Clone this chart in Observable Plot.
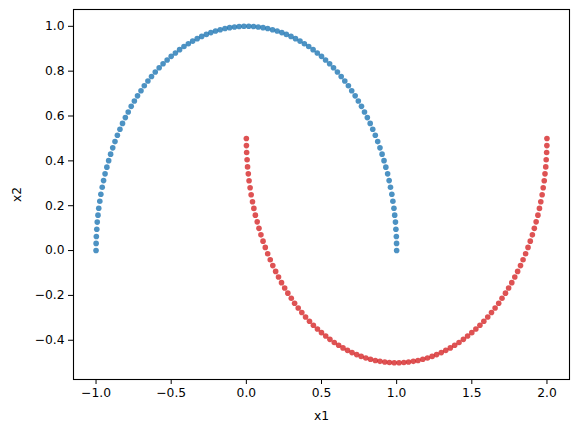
<!DOCTYPE html>
<html>
<head>
<meta charset="utf-8">
<script src="https://cdn.jsdelivr.net/npm/d3@7"></script>
<script src="https://cdn.jsdelivr.net/npm/@observablehq/plot@0.6"></script>
<style>
  html, body { margin: 0; padding: 0; background: #fff; }
  #chart { width: 578px; height: 432px; }
</style>
</head>
<body>
<div id="chart"></div>
<script>
// Class 0 (upper moon, blue)
const moon0X = [1, 0.9995, 0.998, 0.995, 0.992, 0.987, 0.982, 0.975, 0.968, 0.959, 0.950, 0.940, 0.928, 0.916, 0.903, 0.889, 0.874, 0.858, 0.841, 0.824, 0.805, 0.786, 0.766, 0.745, 0.724, 0.701, 0.679, 0.655, 0.631, 0.606, 0.580, 0.554, 0.527, 0.5, 0.472, 0.444, 0.415, 0.386, 0.357, 0.327, 0.297, 0.266, 0.236, 0.205, 0.174, 0.142, 0.111, 0.079, 0.048, 0.016,
  -0.016, -0.048, -0.079, -0.111, -0.142, -0.174, -0.205, -0.236, -0.266, -0.297, -0.327, -0.357, -0.386, -0.415, -0.444, -0.472, -0.5, -0.527, -0.554, -0.580, -0.606, -0.631, -0.655, -0.679, -0.701, -0.724, -0.745, -0.766, -0.786, -0.805, -0.824, -0.841, -0.858, -0.874, -0.889, -0.903, -0.916, -0.928, -0.940, -0.950, -0.959, -0.968, -0.975, -0.982, -0.987, -0.992, -0.995, -0.998, -0.9995, -1];
const moon0Y = [0, 0.032, 0.063, 0.095, 0.127, 0.158, 0.189, 0.220, 0.251, 0.282, 0.312, 0.342, 0.372, 0.401, 0.430, 0.458, 0.486, 0.514, 0.541, 0.567, 0.593, 0.618, 0.643, 0.667, 0.690, 0.713, 0.735, 0.756, 0.776, 0.796, 0.815, 0.833, 0.850, 0.866, 0.881, 0.896, 0.910, 0.922, 0.934, 0.945, 0.955, 0.964, 0.972, 0.979, 0.985, 0.990, 0.994, 0.997, 0.999, 1.000,
  1.000, 0.999, 0.997, 0.994, 0.990, 0.985, 0.979, 0.972, 0.964, 0.955, 0.945, 0.934, 0.922, 0.910, 0.896, 0.881, 0.866, 0.850, 0.833, 0.815, 0.796, 0.776, 0.756, 0.735, 0.713, 0.690, 0.667, 0.643, 0.618, 0.593, 0.567, 0.541, 0.514, 0.486, 0.458, 0.430, 0.401, 0.372, 0.342, 0.312, 0.282, 0.251, 0.220, 0.189, 0.158, 0.127, 0.095, 0.063, 0.032, 0];

// Class 1 (lower moon, red)
const moon1X = [0, 0.0005, 0.002, 0.005, 0.008, 0.013, 0.018, 0.025, 0.032, 0.041, 0.050, 0.060, 0.072, 0.084, 0.097, 0.111, 0.126, 0.142, 0.159, 0.176, 0.195, 0.214, 0.234, 0.255, 0.276, 0.299, 0.321, 0.345, 0.369, 0.394, 0.420, 0.446, 0.473, 0.5, 0.528, 0.556, 0.585, 0.614, 0.643, 0.673, 0.703, 0.734, 0.764, 0.795, 0.826, 0.858, 0.889, 0.921, 0.952, 0.984,
  1.016, 1.048, 1.079, 1.111, 1.142, 1.174, 1.205, 1.236, 1.266, 1.297, 1.327, 1.357, 1.386, 1.415, 1.444, 1.472, 1.5, 1.527, 1.554, 1.580, 1.606, 1.631, 1.655, 1.679, 1.701, 1.724, 1.745, 1.766, 1.786, 1.805, 1.824, 1.841, 1.858, 1.874, 1.889, 1.903, 1.916, 1.928, 1.940, 1.950, 1.959, 1.968, 1.975, 1.982, 1.987, 1.992, 1.995, 1.998, 1.9995, 2];
const moon1Y = [0.5, 0.468, 0.437, 0.405, 0.373, 0.342, 0.311, 0.280, 0.249, 0.218, 0.188, 0.158, 0.128, 0.099, 0.070, 0.042, 0.014, -0.014, -0.041, -0.067, -0.093, -0.118, -0.143, -0.167, -0.190, -0.213, -0.235, -0.256, -0.276, -0.296, -0.315, -0.333, -0.350, -0.366, -0.381, -0.396, -0.410, -0.422, -0.434, -0.445, -0.455, -0.464, -0.472, -0.479, -0.485, -0.490, -0.494, -0.497, -0.499, -0.500,
  -0.500, -0.499, -0.497, -0.494, -0.490, -0.485, -0.479, -0.472, -0.464, -0.455, -0.445, -0.434, -0.422, -0.410, -0.396, -0.381, -0.366, -0.350, -0.333, -0.315, -0.296, -0.276, -0.256, -0.235, -0.213, -0.190, -0.167, -0.143, -0.118, -0.093, -0.067, -0.041, -0.014, 0.014, 0.042, 0.070, 0.099, 0.128, 0.158, 0.188, 0.218, 0.249, 0.280, 0.311, 0.342, 0.373, 0.405, 0.437, 0.468, 0.5];

const xTicks = [-1.0, -0.5, 0.0, 0.5, 1.0, 1.5, 2.0];
const yTicks = [-0.4, -0.2, 0.0, 0.2, 0.4, 0.6, 0.8, 1.0];
const classColors = ["#1f77b4", "#d62728"];

const points = [
  ...moon0X.map((x, i) => ({x1: x, x2: moon0Y[i], cls: 0})),
  ...moon1X.map((x, i) => ({x1: x, x2: moon1Y[i], cls: 1}))
];

const fmt = d3.format(".1f");

const chart = Plot.plot({
  width: 578,
  height: 432,
  marginLeft: 73,
  marginRight: 9,
  marginTop: 9,
  marginBottom: 53,
  style: { fontFamily: "DejaVu Sans", fontSize: "12.3px", color: "#000", background: "#fff" },
  x: { domain: [-1.15, 2.15] },
  y: { domain: [-0.575, 1.075] },
  marks: [
    Plot.dot(points, {
      x: "x1", y: "x2", r: 2.8,
      fill: d => classColors[d.cls], fillOpacity: 0.8, stroke: "none"
    }),
    Plot.frame({ stroke: "#000", strokeWidth: 1.1 }),
    Plot.axisX({ ticks: xTicks, tickFormat: fmt, tickSize: 5, tickPadding: 4,
      label: "x1", labelAnchor: "center", labelArrow: "none", labelOffset: 40 }),
    Plot.axisY({ ticks: yTicks, tickFormat: fmt, tickSize: 5, tickPadding: 4,
      label: "x2", labelAnchor: "center", labelArrow: "none", labelOffset: 61 })
  ]
});
document.getElementById("chart").appendChild(chart);
</script>
</body>
</html>
